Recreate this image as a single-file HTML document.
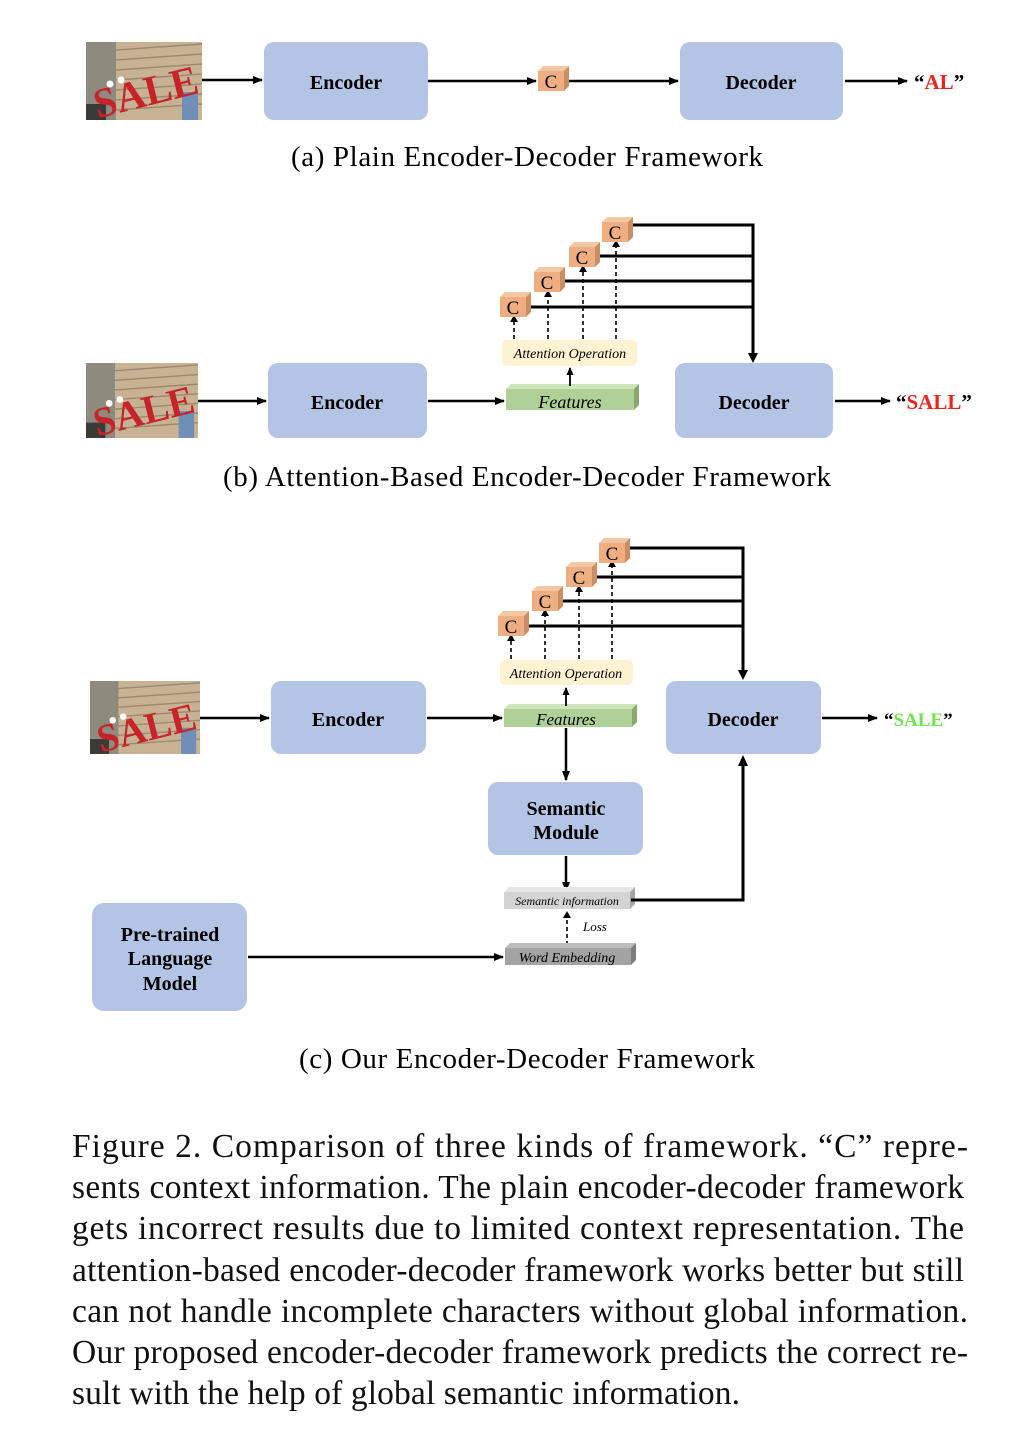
<!DOCTYPE html>
<html><head><meta charset="utf-8"><style>
html,body{margin:0;padding:0;background:#fff;}
svg{display:block;}
text{font-family:"Liberation Serif",serif;}
</style></head><body>
<svg width="1028" height="1440" viewBox="0 0 1028 1440" xmlns="http://www.w3.org/2000/svg">
<defs>
<marker id="ah" markerWidth="10" markerHeight="8" refX="9" refY="4" orient="auto" markerUnits="userSpaceOnUse">
<path d="M0,0 L10,4 L0,8 z" fill="#000"/></marker>
<marker id="sa" markerWidth="8" markerHeight="7" refX="7" refY="3.5" orient="auto" markerUnits="userSpaceOnUse">
<path d="M0,0 L8,3.5 L0,7 z" fill="#000"/></marker>
<symbol id="sale" viewBox="0 0 116 78" preserveAspectRatio="none">
<rect width="116" height="78" fill="#c7b393"/>
<rect width="30" height="78" fill="#8f8a7e"/>
<g stroke="#9c8a70" stroke-width="1.5">
<line x1="30" y1="8" x2="116" y2="2"/><line x1="30" y1="18" x2="116" y2="12"/><line x1="30" y1="28" x2="116" y2="22"/><line x1="30" y1="38" x2="116" y2="32"/><line x1="30" y1="48" x2="116" y2="42"/><line x1="30" y1="58" x2="116" y2="52"/><line x1="30" y1="68" x2="116" y2="62"/></g>
<rect x="96" y="50" width="16" height="28" fill="#6f8fb8"/>
<rect x="0" y="62" width="20" height="16" fill="#3b3a36"/>
<text x="4" y="66" font-size="42" font-weight="bold" fill="#c8232a" transform="rotate(-14 50 40)" font-family="Liberation Sans,sans-serif" textLength="106" lengthAdjust="spacingAndGlyphs">SALE</text>
<circle cx="24" cy="42" r="3.5" fill="#fff"/><circle cx="35" cy="38" r="3.5" fill="#fff"/>
</symbol>
<g id="cube">
<path d="M0,5 L5,0 L31,0 L26,5z" fill="#f2c8a2"/>
<path d="M26,5 L31,0 L31,20 L26,25z" fill="#c98e64"/>
<rect x="0" y="5" width="26" height="20" fill="#eeae82"/>
<text x="13" y="22" font-size="19" text-anchor="middle">C</text>
</g>
</defs>

<!-- (a) -->
<use href="#sale" x="86" y="42" width="116" height="78"/>
<line x1="202" y1="80" x2="262" y2="80" stroke="#000" stroke-width="2.5" marker-end="url(#ah)"/>
<rect x="264" y="42" width="164" height="78" rx="10" fill="#b4c4e4"/>
<text x="346" y="89" font-size="20" font-weight="bold" text-anchor="middle">Encoder</text>
<line x1="428" y1="81" x2="536" y2="81" stroke="#000" stroke-width="2.5" marker-end="url(#ah)"/>
<use href="#cube" x="538" y="66"/>
<line x1="569" y1="81" x2="678" y2="81" stroke="#000" stroke-width="2.5" marker-end="url(#ah)"/>
<rect x="680" y="42" width="163" height="78" rx="10" fill="#b4c4e4"/>
<text x="761" y="89" font-size="20" font-weight="bold" text-anchor="middle">Decoder</text>
<line x1="845" y1="81" x2="907" y2="81" stroke="#000" stroke-width="2.5" marker-end="url(#ah)"/>
<text x="914" y="89" font-size="21" font-weight="bold">“<tspan fill="#e8251f">AL</tspan>”</text>
<text x="527" y="166" font-size="29" text-anchor="middle" textLength="472">(a)  Plain Encoder-Decoder Framework</text>

<!-- (b) -->
<use href="#sale" x="86" y="363" width="112" height="75"/>
<line x1="198" y1="401" x2="266" y2="401" stroke="#000" stroke-width="2.5" marker-end="url(#ah)"/>
<rect x="268" y="363" width="159" height="75" rx="10" fill="#b4c4e4"/>
<text x="347" y="409" font-size="20" font-weight="bold" text-anchor="middle">Encoder</text>
<line x1="428" y1="401" x2="504" y2="401" stroke="#000" stroke-width="2.5" marker-end="url(#ah)"/>
<path d="M506,389 L511,384 L639,384 L634,389z" fill="#cfe3bd"/>
<path d="M634,389 L639,384 L639,405 L634,410z" fill="#8aa86e"/>
<rect x="506" y="389" width="128" height="21" fill="#afd097"/>
<text x="570" y="408" font-size="18" font-style="italic" text-anchor="middle">Features</text>
<line x1="570" y1="386" x2="570" y2="368" stroke="#000" stroke-width="1.8" marker-end="url(#sa)"/>
<rect x="502" y="340" width="135" height="26" rx="5" fill="#fdf3d2"/>
<text x="570" y="358" font-size="14" font-style="italic" text-anchor="middle">Attention Operation</text>
<g stroke="#000" stroke-width="1.6" stroke-dasharray="4,3">
<line x1="514" y1="339" x2="514" y2="322"/><line x1="548" y1="339" x2="548" y2="297"/><line x1="583" y1="339" x2="583" y2="272"/><line x1="616" y1="339" x2="616" y2="247"/></g>
<g fill="#000"><path d="M510,322 L514,315 L518,322z"/><path d="M544,297 L548,290 L552,297z"/><path d="M579,272 L583,265 L587,272z"/><path d="M612,247 L616,240 L620,247z"/></g>
<g stroke="#000" stroke-width="3" fill="none">
<polyline points="630,225 753,225 753,355"/>
<line x1="530" y1="307" x2="753" y2="307"/><line x1="565" y1="281" x2="753" y2="281"/><line x1="597" y1="256" x2="753" y2="256"/></g>
<path d="M748,353 L753,363 L758,353z" fill="#000"/>
<use href="#cube" x="500" y="292"/><use href="#cube" x="534" y="267"/><use href="#cube" x="569" y="242"/><use href="#cube" x="602" y="217"/>
<rect x="675" y="363" width="158" height="75" rx="10" fill="#b4c4e4"/>
<text x="754" y="409" font-size="20" font-weight="bold" text-anchor="middle">Decoder</text>
<line x1="835" y1="401" x2="890" y2="401" stroke="#000" stroke-width="2.5" marker-end="url(#ah)"/>
<text x="896" y="409" font-size="21" font-weight="bold">“<tspan fill="#e8251f">SALL</tspan>”</text>
<text x="527" y="486" font-size="29" text-anchor="middle" textLength="608">(b)  Attention-Based Encoder-Decoder Framework</text>

<!-- (c) -->
<use href="#sale" x="90" y="681" width="110" height="73"/>
<line x1="200" y1="718" x2="269" y2="718" stroke="#000" stroke-width="2.5" marker-end="url(#ah)"/>
<rect x="271" y="681" width="155" height="73" rx="10" fill="#b4c4e4"/>
<text x="348" y="726" font-size="20" font-weight="bold" text-anchor="middle">Encoder</text>
<line x1="427" y1="718" x2="502" y2="718" stroke="#000" stroke-width="2.5" marker-end="url(#ah)"/>
<path d="M504,709 L509,704 L637,704 L632,709z" fill="#cfe3bd"/>
<path d="M632,709 L637,704 L637,722 L632,727z" fill="#8aa86e"/>
<rect x="504" y="709" width="128" height="18" fill="#afd097"/>
<text x="566" y="725" font-size="17" font-style="italic" text-anchor="middle">Features</text>
<line x1="566" y1="706" x2="566" y2="688" stroke="#000" stroke-width="1.8" marker-end="url(#sa)"/>
<rect x="500" y="660" width="133" height="25" rx="5" fill="#fdf3d2"/>
<text x="566" y="678" font-size="14" font-style="italic" text-anchor="middle">Attention Operation</text>
<g stroke="#000" stroke-width="1.6" stroke-dasharray="4,3">
<line x1="511" y1="659" x2="511" y2="641"/><line x1="545" y1="659" x2="545" y2="616"/><line x1="579" y1="659" x2="579" y2="592"/><line x1="612" y1="659" x2="612" y2="567"/></g>
<g fill="#000"><path d="M507,641 L511,634 L515,641z"/><path d="M541,616 L545,609 L549,616z"/><path d="M575,592 L579,585 L583,592z"/><path d="M608,567 L612,560 L616,567z"/></g>
<g stroke="#000" stroke-width="3" fill="none">
<polyline points="627,548 743,548 743,672"/>
<line x1="526" y1="626" x2="743" y2="626"/><line x1="560" y1="601" x2="743" y2="601"/><line x1="594" y1="577" x2="743" y2="577"/></g>
<path d="M738,670 L743,680 L748,670z" fill="#000"/>
<use href="#cube" x="498" y="611"/><use href="#cube" x="532" y="586"/><use href="#cube" x="566" y="562"/><use href="#cube" x="599" y="538"/>
<rect x="666" y="681" width="155" height="73" rx="10" fill="#b4c4e4"/>
<text x="743" y="726" font-size="20" font-weight="bold" text-anchor="middle">Decoder</text>
<line x1="822" y1="718" x2="877" y2="718" stroke="#000" stroke-width="2.5" marker-end="url(#ah)"/>
<text x="884" y="726" font-size="19" font-weight="bold">“<tspan fill="#6fe34a">SALE</tspan>”</text>
<line x1="566" y1="728" x2="566" y2="780" stroke="#000" stroke-width="2.5" marker-end="url(#ah)"/>
<rect x="488" y="782" width="155" height="73" rx="10" fill="#b4c4e4"/>
<text x="566" y="815" font-size="20" font-weight="bold" text-anchor="middle">Semantic</text>
<text x="566" y="839" font-size="20" font-weight="bold" text-anchor="middle">Module</text>
<line x1="566" y1="856" x2="566" y2="891" stroke="#000" stroke-width="2.5" marker-end="url(#ah)"/>
<path d="M504,892 L509,887 L635,887 L630,892z" fill="#e6e6e6"/>
<path d="M630,892 L635,887 L635,904 L630,909z" fill="#a8a8a8"/>
<rect x="504" y="892" width="126" height="17" fill="#d4d4d4"/>
<text x="567" y="905" font-size="12" font-style="italic" text-anchor="middle">Semantic information</text>
<polyline points="631,900 743,900 743,758" fill="none" stroke="#000" stroke-width="3"/>
<path d="M738,766 L743,755 L748,766z" fill="#000"/>
<line x1="567" y1="945" x2="567" y2="917" stroke="#000" stroke-width="1.6" stroke-dasharray="4,3"/>
<path d="M563,918 L567,911 L571,918z" fill="#000"/>
<text x="583" y="931" font-size="13" font-style="italic">Loss</text>
<path d="M505,948 L510,943 L636,943 L631,948z" fill="#bdbdbd"/>
<path d="M631,948 L636,943 L636,960 L631,965z" fill="#7c7c7c"/>
<rect x="505" y="948" width="126" height="17" fill="#a3a3a3"/>
<text x="567" y="962" font-size="14" font-style="italic" text-anchor="middle">Word Embedding</text>
<rect x="92" y="903" width="155" height="108" rx="12" fill="#b4c4e4"/>
<text x="170" y="941" font-size="20" font-weight="bold" text-anchor="middle">Pre-trained</text>
<text x="170" y="965" font-size="20" font-weight="bold" text-anchor="middle">Language</text>
<text x="170" y="990" font-size="20" font-weight="bold" text-anchor="middle">Model</text>
<line x1="248" y1="957" x2="503" y2="957" stroke="#000" stroke-width="2.5" marker-end="url(#ah)"/>
<text x="527" y="1068" font-size="29" text-anchor="middle" textLength="456">(c)  Our Encoder-Decoder Framework</text>

<!-- caption -->
<g font-size="33.5" fill="#111">
<text x="72" y="1157" textLength="896" lengthAdjust="spacing">Figure 2. Comparison of three kinds of framework.  “C” repre-</text>
<text x="72" y="1198" textLength="892" lengthAdjust="spacing">sents context information. The plain encoder-decoder framework</text>
<text x="72" y="1239" textLength="892" lengthAdjust="spacing">gets incorrect results due to limited context representation.  The</text>
<text x="72" y="1281" textLength="892" lengthAdjust="spacing">attention-based encoder-decoder framework works better but still</text>
<text x="72" y="1322" textLength="896" lengthAdjust="spacing">can not handle incomplete characters without global information.</text>
<text x="72" y="1363" textLength="896" lengthAdjust="spacing">Our proposed encoder-decoder framework predicts the correct re-</text>
<text x="72" y="1404" textLength="668" lengthAdjust="spacing">sult with the help of global semantic information.</text>
</g>
</svg>
</body></html>
